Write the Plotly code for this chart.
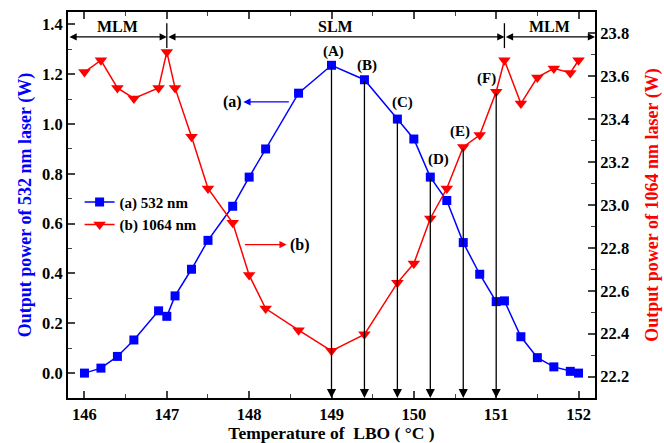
import plotly.graph_objects as go

# ---- data ----
temp_532 = [146.0, 146.2, 146.4, 146.6, 146.9, 147.0, 147.1, 147.3, 147.5, 147.8,
            148.0, 148.2, 148.6, 149.0, 149.4, 149.8, 150.0, 150.2, 150.4,
            150.6, 150.8, 151.0, 151.1, 151.3, 151.5, 151.7, 151.9, 152.0]
power_532 = [0.0, 0.02, 0.067, 0.133, 0.25, 0.228, 0.31, 0.417, 0.533, 0.67,
             0.787, 0.90, 1.124, 1.236, 1.178, 1.02, 0.94, 0.787, 0.693,
             0.524, 0.397, 0.287, 0.29, 0.146, 0.062, 0.025, 0.007, 0.0]

temp_1064 = [146.0, 146.2, 146.4, 146.6, 146.9, 147.0, 147.1, 147.3, 147.5, 147.8,
             148.0, 148.2, 148.6, 149.0, 149.4, 149.8, 150.0, 150.2, 150.4,
             150.6, 150.8, 151.0, 151.1, 151.3, 151.5, 151.7, 151.9, 152.0]
power_1064 = [23.62, 23.675, 23.546, 23.497, 23.546, 23.714, 23.546, 23.318, 23.077, 22.917,
              22.673, 22.517, 22.416, 22.32, 22.397, 22.637, 22.727, 22.937, 23.077,
              23.271, 23.326, 23.528, 23.675, 23.473, 23.595, 23.637, 23.616, 23.675]

# marked points: label, temperature, series the arrow starts from
marks = [("(A)", 149.0, "532"), ("(B)", 149.4, "532"), ("(C)", 149.8, "532"),
         ("(D)", 150.2, "532"), ("(E)", 150.6, "1064"), ("(F)", 151.0, "1064")]
mark_label_pos = {"(A)": (149.02, 1.29), "(B)": (149.43, 1.236), "(C)": (149.86, 1.087),
                  "(D)": (150.30, 0.859), "(E)": (150.56, 0.969), "(F)": (150.88, 1.183)}

regions = [("MLM", 145.8, 147.0), ("SLM", 147.0, 151.1), ("MLM", 151.1, 152.2)]

X_RANGE = [145.8, 152.2]
Y1_RANGE = [-0.1, 1.45]
Y2_RANGE = [22.1, 23.9]

FONT = "Liberation Serif"
BLUE = "#0000FF"
RED = "#FF0000"

fig = go.Figure()
fig.add_trace(go.Scatter(
    x=temp_532, y=power_532, name="(a) 532 nm", mode="lines+markers",
    line=dict(color=BLUE, width=1.5),
    marker=dict(symbol="square", size=9, color=BLUE), yaxis="y"))
fig.add_trace(go.Scatter(
    x=temp_1064, y=power_1064, name="(b) 1064 nm", mode="lines+markers",
    line=dict(color=RED, width=1.5),
    marker=dict(symbol="triangle-down", size=11, color=RED), yaxis="y2"))

ann = []
# vertical arrows from points to the x axis
for lab, t, s in marks:
    if s == "532":
        yv = power_532[temp_532.index(t)]
        yr, lo = "y", Y1_RANGE[0]
    else:
        yv = power_1064[temp_1064.index(t)]
        yr, lo = "y2", Y2_RANGE[0]
    ann.append(dict(x=t, y=lo, xref="x", yref=yr, ax=t, ay=yv, axref="x", ayref=yr,
                    text="", showarrow=True, arrowhead=2, arrowsize=1.4, arrowwidth=1.3,
                    arrowcolor="black", standoff=0, startstandoff=0))
    lx, ly = mark_label_pos[lab]
    ann.append(dict(x=lx, y=ly, xref="x", yref="y", text=lab, showarrow=False,
                    font=dict(family=FONT, size=15, color="black", weight="bold")))

# top region arrows
ybar = 1.35
for lab, a, b in regions:
    ann.append(dict(x=b, y=ybar, xref="x", yref="y", ax=a, ay=ybar, axref="x", ayref="y",
                    text="", showarrow=True, arrowhead=2, arrowside="end+start",
                    arrowsize=1.2, arrowwidth=1.2, arrowcolor="black",
                    standoff=0, startstandoff=0))
    ann.append(dict(x=(a + b) / 2, y=1.39, xref="x", yref="y", text=lab, showarrow=False,
                    font=dict(family=FONT, size=16, color="black", weight="bold")))

# (a) and (b) pointers
ann.append(dict(x=147.93, y=1.089, xref="x", yref="y", ax=148.5, ay=1.089, axref="x", ayref="y",
                text="", showarrow=True, arrowhead=2, arrowsize=1.2, arrowwidth=1.2,
                arrowcolor=BLUE, standoff=0, startstandoff=0))
ann.append(dict(x=147.80, y=1.089, xref="x", yref="y", text="(a)", showarrow=False,
                font=dict(family=FONT, size=16, color="black", weight="bold")))
ann.append(dict(x=148.455, y=0.516, xref="x", yref="y", ax=147.93, ay=0.516, axref="x", ayref="y",
                text="", showarrow=True, arrowhead=2, arrowsize=1.2, arrowwidth=1.2,
                arrowcolor=RED, standoff=0, startstandoff=0))
ann.append(dict(x=148.62, y=0.516, xref="x", yref="y", text="(b)", showarrow=False,
                font=dict(family=FONT, size=16, color="black", weight="bold")))

shapes = []
for xv in [regions[0][2], regions[1][2]]:
    shapes.append(dict(type="line", xref="x", yref="y", x0=xv, x1=xv, y0=1.305, y1=1.405,
                       line=dict(color="black", width=1.3)))

tickfont = dict(family=FONT, size=16.5, color="black", weight="bold")
fig.update_layout(
    width=664, height=443,
    margin=dict(l=68, r=69, t=12, b=45, autoexpand=False),
    paper_bgcolor="white", plot_bgcolor="white",
    showlegend=True,
    legend=dict(x=0.022, y=0.55, xanchor="left", yanchor="top",
                bgcolor="rgba(0,0,0,0)", tracegroupgap=0,
                font=dict(family=FONT, size=15, color="black", weight="bold")),
    xaxis=dict(range=X_RANGE, dtick=1, tick0=146, ticks="inside", ticklen=7, tickwidth=1.5,
               showline=True, linewidth=2, linecolor="black", mirror="ticks",
               showgrid=False, zeroline=False, tickfont=tickfont, automargin=False,
               minor=dict(dtick=0.5, ticks="inside", ticklen=4, tickwidth=1.2),
               title=dict(text="Temperature of\u00a0 LBO ( °C )", standoff=15,
                          font=dict(family=FONT, size=17.5, color="black", weight="bold"))),
    yaxis=dict(range=Y1_RANGE, dtick=0.2, tick0=0, tickformat=".1f", ticks="inside",
               ticklen=7, tickwidth=1.5, showline=True, linewidth=2, linecolor="black",
               showgrid=False, zeroline=False, tickfont=tickfont, automargin=False,
               minor=dict(dtick=0.1, ticks="inside", ticklen=4, tickwidth=1.2),
               title=dict(text="Output power of 532 nm laser (W)", standoff=6,
                          font=dict(family=FONT, size=18, color=BLUE, weight="bold"))),
    yaxis2=dict(range=Y2_RANGE, dtick=0.2, tick0=22.2, tickformat=".1f", ticks="inside",
                ticklen=7, tickwidth=1.5, showline=True, linewidth=2, linecolor="black",
                overlaying="y", side="right", automargin=False,
                showgrid=False, zeroline=False, tickfont=tickfont,
                minor=dict(dtick=0.1, ticks="inside", ticklen=4, tickwidth=1.2),
                title=dict(text="Output power of 1064 nm laser (W)", standoff=17,
                           font=dict(family=FONT, size=18, color=RED, weight="bold"))),
    annotations=ann,
    shapes=shapes,
)

fig.write_html("out.html", config={"displayModeBar": False},
               post_script="document.body.style.margin='0';")
